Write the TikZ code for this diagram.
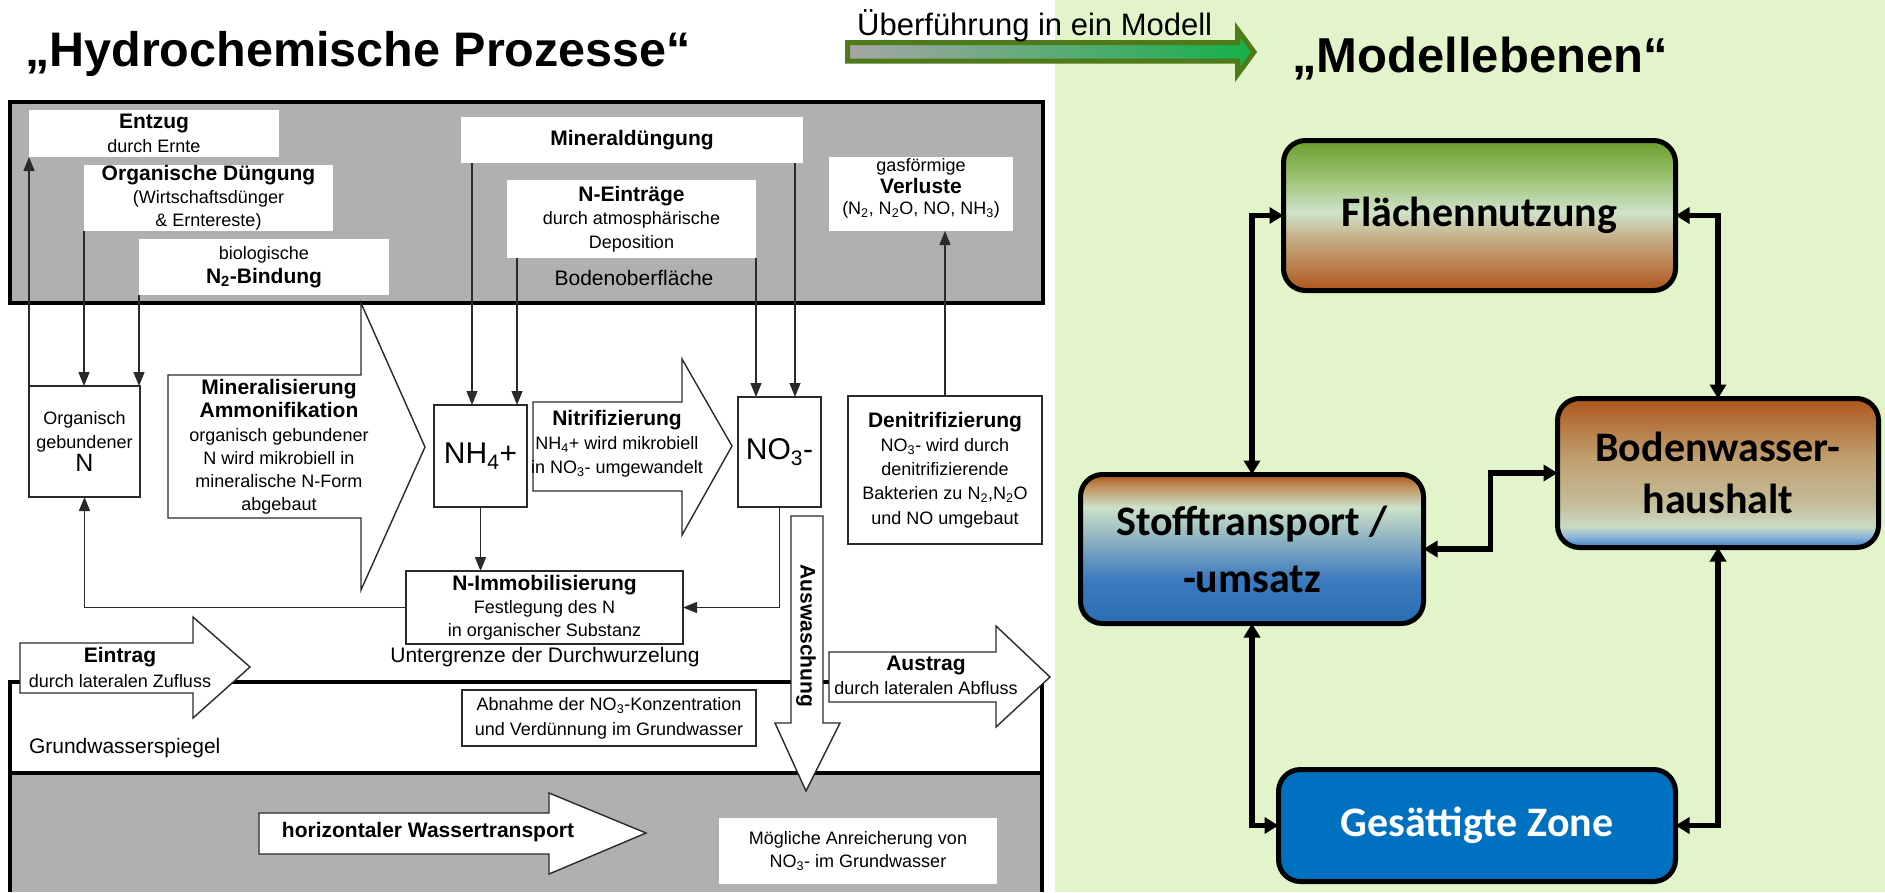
\documentclass[tikz,border=0pt]{standalone}
\usepackage{fontspec}
\setmainfont{Liberation Sans}
\newfontfamily\carl{Carlito}
\usetikzlibrary{arrows.meta,calc}

\newcommand\fsz[2]{\fontsize{#1}{#2}\selectfont}

\definecolor{bandgray}{HTML}{B0B0B0}
\definecolor{panelgreen}{HTML}{E2F4C9}
\definecolor{arrgray}{HTML}{A6A6A6}
\definecolor{arrgreen}{HTML}{14B04A}
\definecolor{arrolive}{HTML}{4E7A1A}
\definecolor{linegray}{HTML}{2A2A2A}
% Flaechennutzung
\definecolor{fgreen}{HTML}{6A9E2A}
\definecolor{fgreenl}{HTML}{9DC274}
\definecolor{fpale}{HTML}{CFE3CA}
\definecolor{ftan}{HTML}{C6AE86}
\definecolor{fbrown}{HTML}{AE561C}
% Bodenwasser
\definecolor{btan}{HTML}{C0A070}
\definecolor{bbeige}{HTML}{C4BC98}
\definecolor{bpale}{HTML}{C8DCC4}
\definecolor{blightblue}{HTML}{8AB4D8}
\definecolor{bblue}{HTML}{3C7CC4}
% Stofftransport
\definecolor{stan}{HTML}{C09060}
\definecolor{spale}{HTML}{CCE2C8}
\definecolor{sgrayblue}{HTML}{88AEC0}
\definecolor{sblue}{HTML}{3D7BBF}
\definecolor{sdblue}{HTML}{2A6DB3}
\definecolor{gzblue}{HTML}{0070C0}

\pgfdeclareverticalshading{flaeshade}{100bp}{color(0bp)=(fbrown); color(25bp)=(fbrown); color(42.5bp)=(ftan); color(51bp)=(fpale); color(62.5bp)=(fgreenl); color(75bp)=(fgreen); color(100bp)=(fgreen)}
\pgfdeclareverticalshading{bwshade}{100bp}{color(0bp)=(bblue); color(25bp)=(bblue); color(28.5bp)=(blightblue); color(32bp)=(bpale); color(40bp)=(bbeige); color(55bp)=(btan); color(75bp)=(fbrown); color(100bp)=(fbrown)}
\pgfdeclareverticalshading{stshade}{100bp}{color(0bp)=(sdblue); color(25bp)=(sdblue); color(40bp)=(sblue); color(52.5bp)=(sgrayblue); color(64bp)=(spale); color(71bp)=(stan); color(75bp)=(fbrown); color(100bp)=(fbrown)}

\tikzset{
  whitebox/.style={fill=white, inner sep=0pt, outer sep=0pt, align=center, font=\fsz{18}{23.5}},
  thinbox/.style={draw=linegray, line width=1.4pt, fill=white, inner sep=0pt, outer sep=0pt, align=center, font=\fsz{18}{23.5}},
  bigarrow/.style={draw=linegray, line width=1.4pt, fill=white, line join=miter},
  lab/.style={inner sep=0pt, outer sep=0pt, align=center, font=\fsz{18}{23.5}},
  larr/.style={draw=linegray, line width=1.4pt, -{Triangle[length=14pt,width=11pt]}},
  thickline/.style={line width=4pt, black},
  mbox/.style={rounded corners=22pt, draw=black, line width=5pt, inner sep=0pt, outer sep=0pt, align=center, font=\carl\fsz{42}{52}\bfseries},
  rarr/.style={line width=5.5pt, black, line join=miter, {Triangle[length=14pt,width=16pt]}-{Triangle[length=14pt,width=16pt]}},
}

\begin{document}
\begin{tikzpicture}[x=1pt,y=-1pt]
\useasboundingbox (0,0) rectangle (1885,892);
% backgrounds
\fill[white] (0,0) rectangle (1055,892);
\fill[panelgreen] (1055,0) rectangle (1885,892);

% titles and transfer arrow
\node[anchor=base west, inner sep=0pt] (ltitle) at (25,66) {\fsz{48.5}{50}\bfseries „Hydrochemische Prozesse“};
\node[anchor=base west, inner sep=0pt] (rtitle) at (1292,72) {\fsz{49}{52}\bfseries „Modellebenen“};
\shadedraw[left color=arrgray, right color=arrgreen, draw=arrolive, line width=5pt, line join=miter]
  (847.5,42.5) -- (1237.5,42.5) -- (1237.5,29.5) -- (1254,52) -- (1237.5,74.5) -- (1237.5,61) -- (847.5,61) -- cycle;
\node[anchor=base west, inner sep=0pt] (ueber) at (857,35) {\fsz{31}{34}Überführung in ein Modell};

% soil surface band
\node[draw=black, line width=4pt, fill=bandgray, minimum width=1033pt, minimum height=201pt, inner sep=0pt, outer sep=0pt] (band) at (526.5,202.5) {};

% lower zones
\fill[bandgray] (10,773) rectangle (1042,892);
\draw[thickline] (10,682) -- (1042,682);
\draw[thickline] (10,773) -- (1042,773);
\draw[thickline] (10,680) -- (10,892);
\draw[thickline] (1042,680) -- (1042,892);

% big process arrows
\draw[bigarrow] (168,375) -- (361,375) -- (361,303) -- (425,447) -- (361,590) -- (361,518) -- (168,518) -- cycle;
\draw[bigarrow] (533,402) -- (682,402) -- (682,359) -- (732,446) -- (682,535) -- (682,491) -- (533,491) -- cycle;
\draw[bigarrow] (791,516) -- (823,516) -- (823,723) -- (840,723) -- (806,791) -- (775,723) -- (791,723) -- cycle;
\draw[bigarrow] (20,643) -- (193,643) -- (193,617) -- (250,667) -- (193,718) -- (193,693) -- (20,693) -- cycle;
\draw[bigarrow] (829,652) -- (996,652) -- (996,626) -- (1050,677) -- (996,727) -- (996,702) -- (829,702) -- cycle;
\draw[bigarrow] (259,813) -- (549,813) -- (549,793) -- (646,833) -- (549,874) -- (549,854) -- (259,854) -- cycle;

% boxes in the band
\node[whitebox, minimum width=250pt, minimum height=47pt] (entzug) at (154,133.5) {{\bfseries\fsz{21}{24}Entzug}\\durch Ernte};
\node[whitebox, minimum width=249pt, minimum height=66pt, font=\fsz{18}{23}] (orgd) at (208.5,198) {{\bfseries\fsz{21}{23}Organische Düngung}\\(Wirtschaftsdünger\\\& Erntereste)};
\node[whitebox, minimum width=250pt, minimum height=56pt] (bio) at (264,267) {biologische\\{\bfseries\fsz{21}{23}N\textsubscript{2}-Bindung}};
\node[whitebox, minimum width=342pt, minimum height=46pt] (mind) at (632,140) {\bfseries\fsz{21}{24}Mineraldüngung};
\node[whitebox, minimum width=249pt, minimum height=78pt] (nein) at (631.5,219) {{\bfseries\fsz{21}{24}N-Einträge}\\durch atmosphärische\\Deposition};
\node[lab, font=\fsz{21}{24}] (boden) at (634,278) {Bodenoberfläche};
\node[whitebox, minimum width=184pt, minimum height=74pt] (verl) at (921,194) {};
\node[lab, font=\fsz{18}{21.5}] (verltext) at (921,188.5) {gasförmige\\{\bfseries\fsz{21}{22}Verluste}\\(N\textsubscript{2}, N\textsubscript{2}O, NO, NH\textsubscript{3})};

% boxes in the root zone
\node[thinbox, minimum width=111pt, minimum height=111pt] (orgN) at (84.5,441.5) {Organisch\\gebundener\\{\fsz{25}{23.5}N}};
\node[thinbox, minimum width=93pt, minimum height=102pt] (nh4) at (480.5,456) {\fsz{30}{30}NH\textsubscript{4}+};
\node[thinbox, minimum width=83pt, minimum height=110pt] (no3) at (779.5,452) {\fsz{30}{30}NO\textsubscript{3}-};
\node[thinbox, minimum width=194pt, minimum height=148pt, font=\fsz{18}{24.2}] (denit) at (945,470) {{\bfseries\fsz{21}{24}Denitrifizierung}\\NO\textsubscript{3}- wird durch\\denitrifizierende\\Bakterien zu N\textsubscript{2},N\textsubscript{2}O\\und NO umgebaut};
\node[thinbox, minimum width=277pt, minimum height=73pt, font=\fsz{18}{23}] (nimm) at (544.5,607.5) {{\bfseries\fsz{21}{23}N-Immobilisierung}\\Festlegung des N\\in organischer Substanz};
\node[lab, font=\fsz{21}{24}] (unter) at (545,657) {Untergrenze der Durchwurzelung};
\node[lab, font=\fsz{21}{24}, anchor=west] (gws) at (29,748) {Grundwasserspiegel};
\node[thinbox, minimum width=294pt, minimum height=56pt, font=\fsz{18}{25}] (abn) at (609,718) {Abnahme der NO\textsubscript{3}-Konzentration\\und Verdünnung im Grundwasser};
\node[whitebox, minimum width=278pt, minimum height=66pt, font=\fsz{18}{23}] (moegl) at (858,851) {Mögliche Anreicherung von\\NO\textsubscript{3}- im Grundwasser};

% texts on the process arrows
\node[lab, font=\fsz{18}{23.2}] (mintext) at (279,447) {{\bfseries\fsz{21}{23.2}Mineralisierung}\\{\bfseries\fsz{21}{23.2}Ammonifikation}\\organisch gebundener\\N wird mikrobiell in\\mineralische N-Form\\abgebaut};
\node[lab, font=\fsz{18}{24}] (nitext) at (617,444) {{\bfseries\fsz{21}{24}Nitrifizierung}\\NH\textsubscript{4}+ wird mikrobiell\\in NO\textsubscript{3}- umgewandelt};
\node[lab, font=\fsz{18}{25}] (eintext) at (120,667.5) {{\bfseries\fsz{21}{25}Eintrag}\\durch lateralen Zufluss};
\node[lab, font=\fsz{18}{24}] (austext) at (926,675) {{\bfseries\fsz{21}{24}Austrag}\\durch lateralen Abfluss};
\node[lab, font=\fsz{21}{24}\bfseries] (htext) at (428,832) {horizontaler Wassertransport};
\node[lab, font=\fsz{21}{24}\bfseries, rotate=-90] (auswtext) at (806,636) {Auswaschung};

% connectors (left)
\coordinate (m1) at ($(mind.south west)+(11,0)$);
\coordinate (m2) at ($(mind.south east)+(-8,0)$);
\coordinate (e1) at ($(nein.south west)+(10,0)$);
\coordinate (e2) at ($(nein.south east)+(0,0)$);
\draw[larr] (orgN.north west) -- (entzug.south west);
\draw[larr] (orgd.south west) -- (orgd.south west |- orgN.north);
\draw[larr] (bio.south west) -- (bio.south west |- orgN.north);
\draw[larr] (m1) -- (m1 |- nh4.north);
\draw[larr] (e1) -- (e1 |- nh4.north);
\draw[larr] (m2) -- (m2 |- no3.north);
\draw[larr] (e2) -- (e2 |- no3.north);
\draw[larr] (nh4.south) -- (nh4.south |- nimm.north);
\draw[larr] (no3.south) |- (nimm.east);
\draw[larr] (nimm.west) -| (orgN.south);
\draw[larr] (denit.north) -- (denit.north |- verl.south);

% model levels (right)
\node[mbox, shading=flaeshade, minimum width=392pt, minimum height=150pt] (flae) at (1479.5,215.5) {Flächennutzung};
\node[mbox, shading=bwshade, minimum width=321pt, minimum height=149pt, font=\carl\fsz{42}{52}\bfseries] (bw) at (1718,473) {Bodenwasser-\\haushalt};
\node[mbox, shading=stshade, minimum width=343pt, minimum height=149pt, font=\carl\fsz{42}{57}\bfseries] (stoff) at (1252,549) {Stofftransport /\\-umsatz};
\node[mbox, fill=gzblue, text=white, minimum width=397pt, minimum height=112pt] (gz) at (1477,825.5) {Gesättigte Zone};

\draw[rarr] (stoff.north) |- (flae.west);
\draw[rarr] (flae.east) -| (bw.north);
\draw[rarr] (stoff.east) -| ($(stoff.east)!0.5!(bw.west)$) |- (bw.west);
\draw[rarr] (stoff.south) |- (gz.west);
\draw[rarr] (bw.south) |- (gz.east);
\end{tikzpicture}
\end{document}
